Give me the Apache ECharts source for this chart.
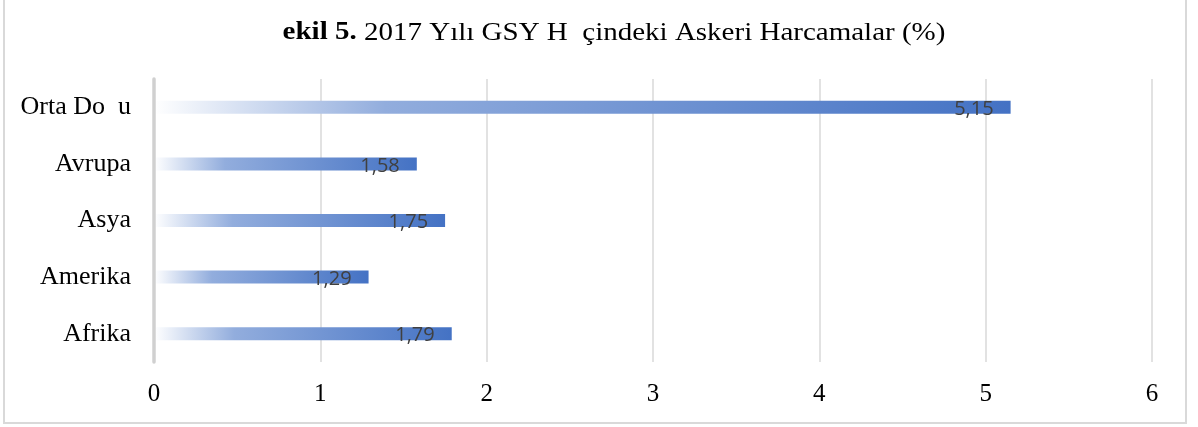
<!DOCTYPE html>
<html>
<head>
<meta charset="utf-8">
<script src="https://cdn.jsdelivr.net/npm/echarts@6/dist/echarts.min.js"></script>
<style>
html,body{margin:0;padding:0;background:#fff;}
#chart{width:1198px;height:427px;}
</style>
</head>
<body>
<div id="chart"></div>
<script>
var categories = ['Orta Do  u', 'Avrupa', 'Asya', 'Amerika', 'Afrika'];
var values = [5.15, 1.58, 1.75, 1.29, 1.79];
var xTicks = [0, 1, 2, 3, 4, 5, 6];
var titleText = '{b|ekil 5.} 2017 Yılı GSY H  çindeki Askeri Harcamalar (%)';

var chart = echarts.init(document.getElementById('chart'));
var serif = '"Liberation Serif", "Times New Roman", serif';
chart.setOption({
  animation: false,
  backgroundColor: '#ffffff',
  graphic: [{
    type: 'rect',
    shape: {x: 4, y: -3, width: 1182, height: 426},
    style: {fill: 'none', stroke: '#d9d9d9', lineWidth: 2},
    silent: true
  }, {
    type: 'text',
    x: 614,
    y: 33,
    scaleX: 1.16,
    silent: true,
    style: {
      text: titleText,
      align: 'center',
      verticalAlign: 'middle',
      fontFamily: serif,
      fontSize: 25,
      fill: '#000',
      rich: {
        b: {fontFamily: serif, fontSize: 25, fontWeight: 'bold', fill: '#000'}
      }
    }
  }],
  grid: {left: 154, right: 46, top: 79, bottom: 65, containLabel: false},
  xAxis: {
    type: 'value',
    min: 0,
    max: 6,
    interval: 1,
    axisLine: {show: false},
    axisTick: {show: false},
    axisLabel: {
      fontFamily: serif, fontSize: 25, color: '#000', margin: 20,
      formatter: function (v) { return xTicks.indexOf(v) >= 0 ? String(v) : ''; }
    },
    splitLine: {show: true, lineStyle: {color: '#d9d9d9', width: 1.5}}
  },
  yAxis: {
    type: 'category',
    inverse: true,
    data: categories,
    z: 5,
    axisLine: {show: true, lineStyle: {color: '#d0d0d0', width: 3.5}},
    axisTick: {show: false},
    axisLabel: {fontFamily: serif, fontSize: 26, color: '#000', margin: 23}
  },
  series: [{
    type: 'bar',
    data: values,
    barWidth: 13,
    z: 2,
    itemStyle: {
      color: new echarts.graphic.LinearGradient(0, 0, 1, 0, [
        {offset: 0, color: '#ffffff'},
        {offset: 0.27, color: '#92addd'},
        {offset: 1, color: '#4472c4'}
      ])
    },
    label: {
      show: true,
      position: 'insideRight',
      distance: 17,
      offset: [0, 2],
      fontFamily: '"Open Sans", "Liberation Sans", sans-serif',
      fontSize: 20,
      color: '#404040',
      formatter: function (p) { return p.value.toFixed(2).replace('.', ','); }
    }
  }]
});
</script>
</body>
</html>
